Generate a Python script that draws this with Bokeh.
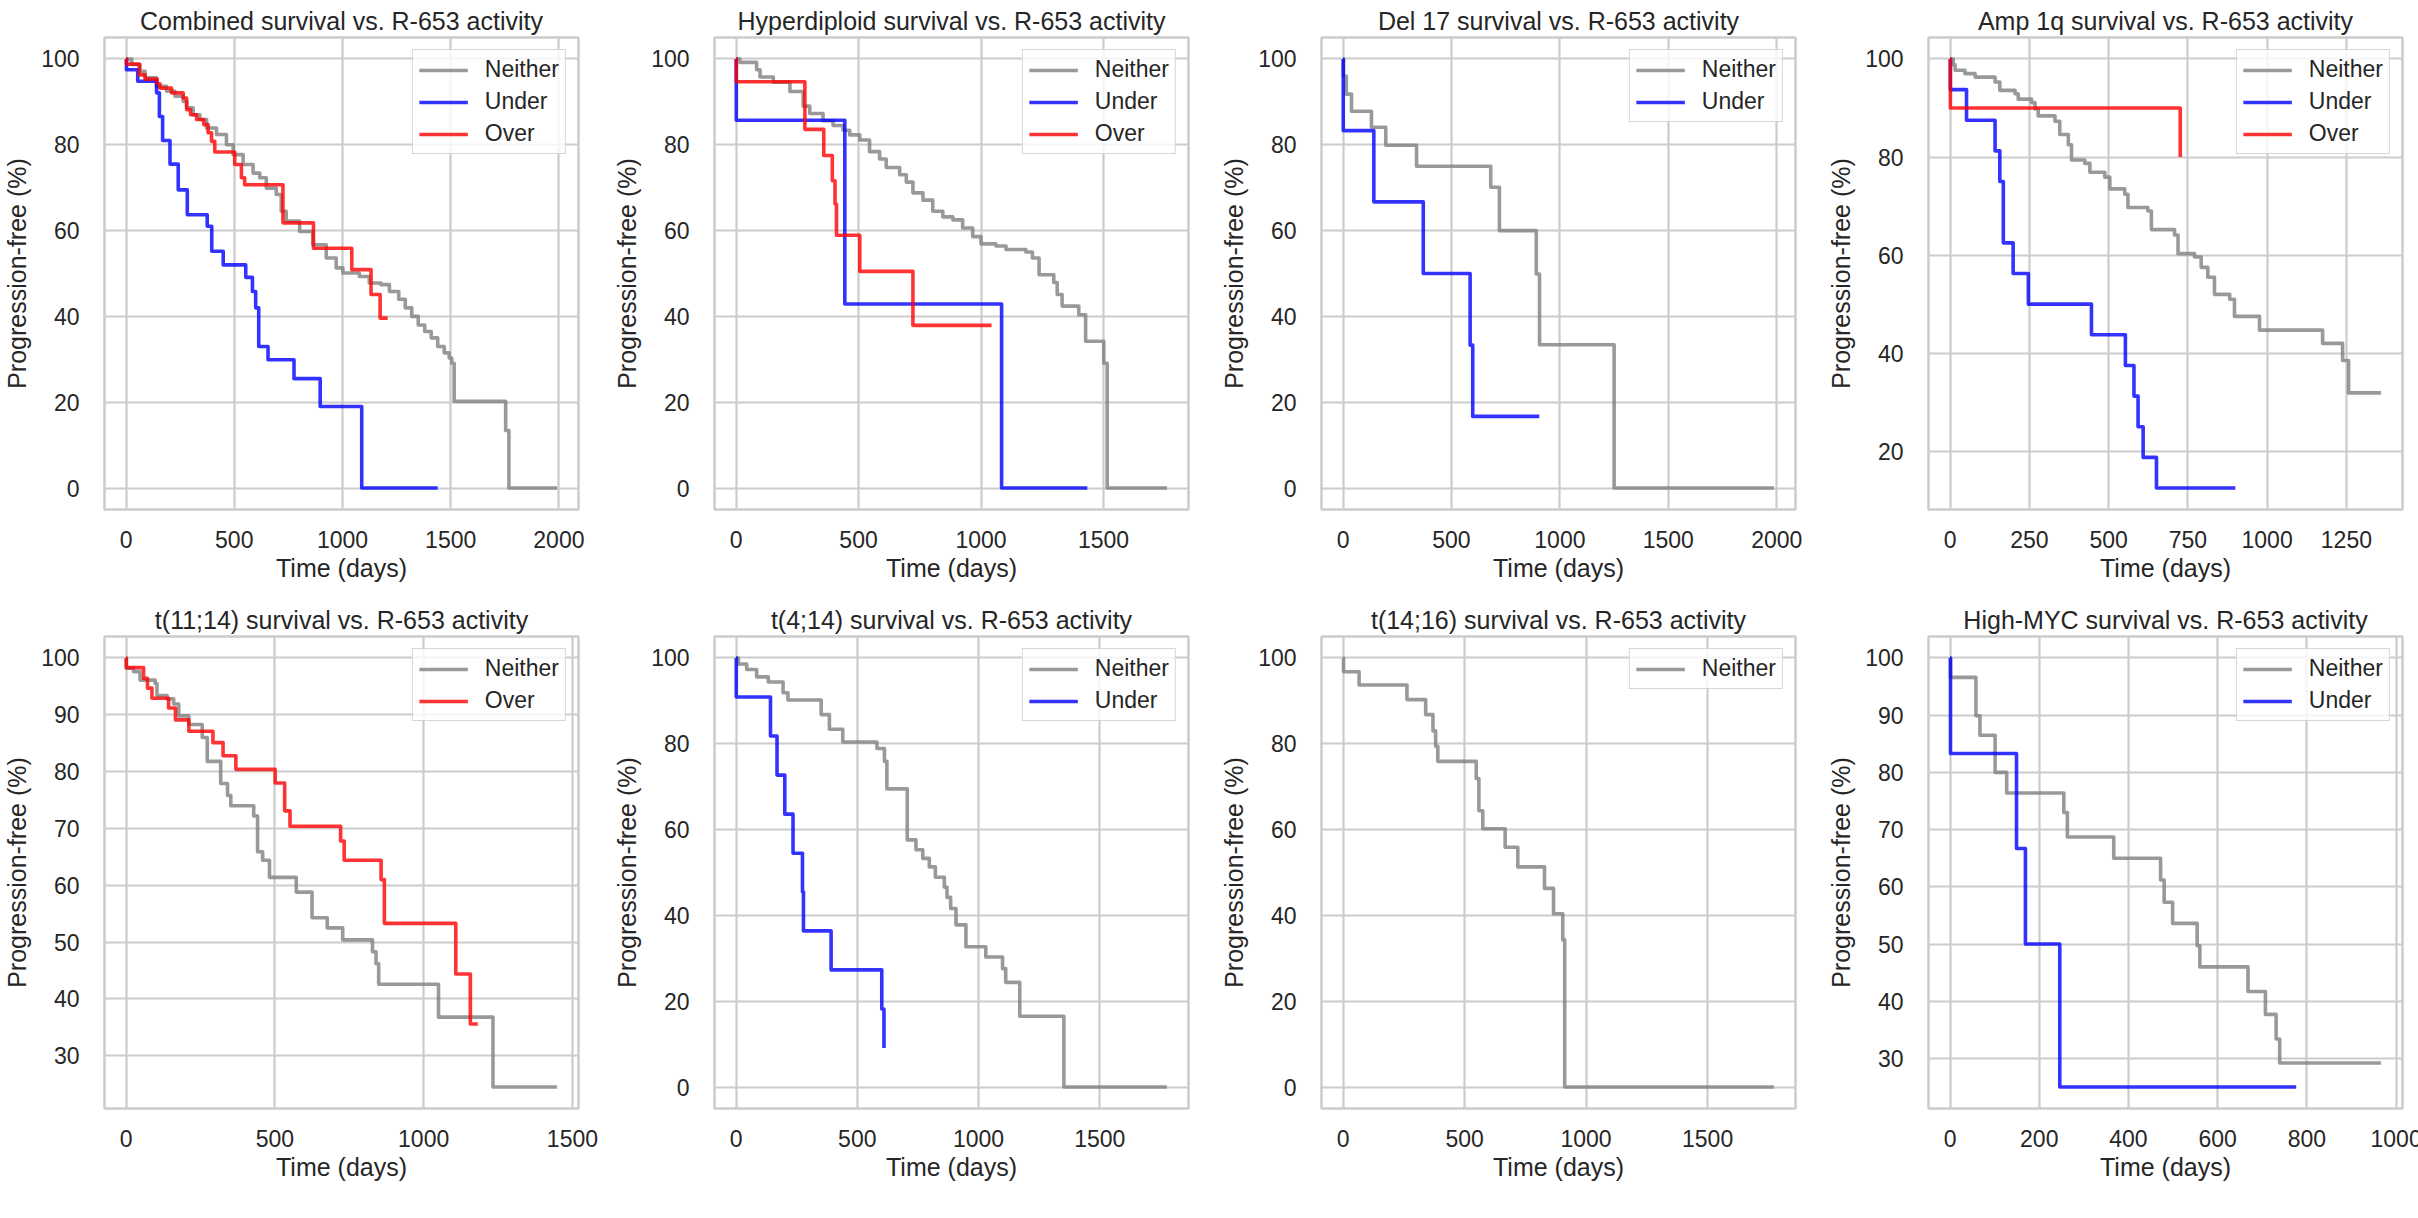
from bokeh.plotting import figure
from bokeh.layouts import column, row
from bokeh.models import Legend, LegendItem, FixedTicker, Range1d
from bokeh.embed import file_html
from bokeh.resources import INLINE

FONT = "Liberation Sans"
TXT = "#262626"
GRID = "#cccccc"

# ---------------- data ----------------
# Combined
comb_neither_t = [0, 26, 65, 88, 141, 187, 226, 264, 280, 310, 341, 372, 418, 464, 495, 541, 587, 618, 648, 694,
                  717, 740, 802, 863, 925, 971, 1002, 1078, 1124, 1178, 1217, 1260, 1290, 1320, 1350, 1380, 1410,
                  1440, 1470, 1493, 1505, 1516, 1754, 1769]
comb_neither_s = [100, 98.7, 97.1, 95.6, 93.6, 92.5, 91.3, 90.1, 88.6, 87.0, 85.9, 83.9, 82.4, 80.0, 77.7, 75.4,
                  73.4, 72.3, 69.9, 68.4, 64.5, 62.2, 59.8, 56.7, 53.6, 51.3, 50.1, 49.3, 47.8, 47.4, 45.8, 44.0,
                  42.0, 40.0, 38.0, 36.5, 35.0, 33.0, 31.5, 30.3, 29.1, 20.2, 13.4, 0]
comb_neither_end = 1991
comb_under_t = [0, 2, 54, 141, 154, 169, 203, 241, 283, 375, 396, 449, 553, 584, 599, 613, 656, 776, 897, 1089]
comb_under_s = [100, 97.5, 94.8, 92.1, 86.6, 81.0, 75.5, 69.5, 63.7, 61.0, 55.2, 52.0, 49.1, 45.8, 42.0, 33.0,
                29.9, 25.5, 19.0, 0]
comb_under_end = 1440
comb_over_t = [0, 2, 61, 88, 144, 157, 210, 264, 280, 298, 326, 359, 379, 395, 410, 502, 533, 548, 725, 866,
               1043, 1132, 1174]
comb_over_s = [100, 98.8, 96.3, 95.3, 94.2, 93.2, 92.1, 90.9, 88.2, 87.0, 85.9, 84.7, 82.8, 80.8, 78.3, 75.4,
               72.3, 70.7, 61.8, 55.9, 50.9, 45.1, 39.6]
comb_over_end = 1209

# Hyperdiploid
hyper_neither_t = [0, 16, 84, 98, 152, 220, 274, 301, 355, 396, 437, 464, 505, 545, 586, 613, 668, 695, 722, 763,
                   803, 844, 885, 925, 966, 1000, 1061, 1102, 1183, 1210, 1237, 1297, 1311, 1331, 1399, 1427,
                   1501, 1515]
hyper_neither_s = [100, 99.2, 97.5, 95.8, 94.6, 92.4, 89.0, 87.3, 85.6, 84.5, 83.4, 82.3, 81.1, 78.4, 76.7, 74.7,
                   73.0, 71.3, 68.8, 67.1, 64.5, 63.2, 62.5, 60.6, 58.6, 56.9, 56.4, 55.6, 55.0, 53.6, 49.7, 47.9,
                   45.1, 42.4, 40.4, 34.2, 29.1, 0]
hyper_neither_end = 1759
hyper_under_t = [0, 1, 444, 1084]
hyper_under_s = [100, 85.7, 42.9, 0]
hyper_under_end = 1434
hyper_over_t = [0, 1, 281, 358, 393, 404, 410, 505, 722]
hyper_over_s = [100, 94.7, 83.6, 77.5, 71.6, 66.2, 58.9, 50.5, 37.9]
hyper_over_end = 1043

# Del 17
del17_neither_t = [0, 2, 15, 39, 131, 197, 339, 681, 721, 891, 906, 1250]
del17_neither_s = [100, 96.0, 91.8, 87.8, 84.1, 79.9, 75.0, 70.1, 60.0, 49.9, 33.4, 0]
del17_neither_end = 1987
del17_under_t = [0, 1, 142, 370, 586, 598]
del17_under_s = [100, 83.3, 66.7, 50.0, 33.3, 16.7]
del17_under_end = 905

# Amp 1q
amp_neither_t = [0, 10, 16, 47, 79, 142, 157, 205, 215, 257, 268, 278, 331, 346, 373, 383, 425, 441, 488, 504,
                 551, 561, 624, 635, 708, 719, 771, 792, 813, 834, 882, 897, 976, 1175, 1238, 1257]
amp_neither_s = [100, 98.8, 97.7, 97.0, 96.3, 95.3, 93.6, 92.9, 91.8, 91.1, 89.8, 88.4, 87.3, 84.6, 82.5, 79.4,
                 78.7, 76.9, 75.9, 73.5, 72.4, 69.7, 69.0, 65.2, 64.1, 60.3, 59.6, 57.5, 55.5, 52.0, 51.0, 47.5,
                 44.7, 42.0, 38.5, 31.9]
amp_neither_end = 1359
amp_under_t = [0, 1, 52, 142, 157, 168, 199, 247, 446, 553, 580, 593, 609, 651]
amp_under_s = [100, 93.75, 87.5, 81.25, 75.0, 62.5, 56.25, 50.0, 43.75, 37.5, 31.25, 25.0, 18.75, 12.5]
amp_under_end = 900
amp_over_t = [0, 1, 726]
amp_over_s = [100, 90.0, 80.0]
amp_over_end = 726

# t(11;14)
t1114_neither_t = [0, 1, 25, 47, 98, 104, 138, 160, 177, 211, 256, 273, 318, 341, 352, 429, 442, 459, 482, 572,
                   625, 676, 728, 828, 840, 849, 1050, 1233]
t1114_neither_s = [100, 98.2, 97.6, 96.1, 95.5, 93.4, 92.8, 91.9, 89.8, 88.3, 86.0, 81.8, 77.9, 75.8, 74.0, 72.2,
                   65.9, 64.4, 61.4, 58.8, 54.3, 52.5, 50.4, 48.3, 46.2, 42.6, 36.8, 24.5]
t1114_neither_end = 1448
t1114_over_t = [0, 1, 59, 72, 87, 143, 166, 211, 292, 326, 369, 501, 533, 551, 721, 733, 857, 868, 1108, 1157]
t1114_over_s = [100, 98.3, 96.4, 94.7, 92.9, 91.2, 89.1, 87.1, 85.1, 82.8, 80.4, 78.0, 73.1, 70.4, 67.8, 64.4,
                61.0, 53.3, 44.4, 35.6]
t1114_over_end = 1182

# t(4;14)
t414_neither_t = [0, 10, 44, 85, 133, 194, 214, 351, 385, 440, 581, 612, 622, 706, 742, 770, 797, 822, 859, 870,
                  885, 907, 948, 1030, 1099, 1112, 1170, 1352]
t414_neither_s = [100, 98.6, 97.3, 95.6, 94.4, 91.9, 90.2, 86.8, 83.4, 80.4, 78.9, 75.9, 69.5, 57.6, 55.3, 53.3,
                  51.3, 48.9, 46.6, 44.2, 41.6, 37.8, 32.7, 30.3, 27.6, 24.4, 16.5, 0]
t414_neither_end = 1777
t414_under_t = [0, 1, 142, 169, 201, 235, 274, 278, 392, 601, 610]
t414_under_s = [100, 90.9, 81.8, 72.7, 63.6, 54.5, 45.5, 36.4, 27.3, 18.2, 9.1]
t414_under_end = 610

# t(14;16)
t1416_neither_t = [0, 2, 66, 263, 340, 370, 381, 390, 548, 559, 575, 667, 719, 829, 866, 904, 912]
t1416_neither_s = [100, 96.8, 93.7, 90.3, 86.8, 83.0, 79.4, 75.9, 71.9, 64.4, 60.2, 55.9, 51.3, 46.3, 40.4, 34.3, 0]
t1416_neither_end = 1773

# High-MYC
myc_neither_t = [0, 1, 58, 67, 101, 127, 255, 263, 367, 472, 480, 499, 554, 560, 668, 707, 731, 739]
myc_neither_s = [100, 96.6, 89.9, 86.5, 80.0, 76.4, 73.0, 68.7, 65.0, 61.2, 57.3, 53.6, 49.7, 46.0, 41.7, 37.7,
                 33.4, 29.2]
myc_neither_end = 966
myc_under_t = [0, 1, 149, 169, 246]
myc_under_s = [100, 83.3, 66.7, 50.0, 25.0]
myc_under_end = 776

titles = ["Combined survival vs. R-653 activity", "Hyperdiploid survival vs. R-653 activity",
          "Del 17 survival vs. R-653 activity", "Amp 1q survival vs. R-653 activity",
          "t(11;14) survival vs. R-653 activity", "t(4;14) survival vs. R-653 activity",
          "t(14;16) survival vs. R-653 activity", "High-MYC survival vs. R-653 activity"]

x_ticks = [[0, 500, 1000, 1500, 2000], [0, 500, 1000, 1500], [0, 500, 1000, 1500, 2000],
           [0, 250, 500, 750, 1000, 1250], [0, 500, 1000, 1500], [0, 500, 1000, 1500],
           [0, 500, 1000, 1500], [0, 200, 400, 600, 800, 1000]]
y_ticks = [[0, 20, 40, 60, 80, 100], [0, 20, 40, 60, 80, 100], [0, 20, 40, 60, 80, 100],
           [20, 40, 60, 80, 100], [30, 40, 50, 60, 70, 80, 90, 100], [0, 20, 40, 60, 80, 100],
           [0, 20, 40, 60, 80, 100], [30, 40, 50, 60, 70, 80, 90, 100]]

curves = [
    [("Neither", comb_neither_t, comb_neither_s, comb_neither_end),
     ("Under", comb_under_t, comb_under_s, comb_under_end),
     ("Over", comb_over_t, comb_over_s, comb_over_end)],
    [("Neither", hyper_neither_t, hyper_neither_s, hyper_neither_end),
     ("Under", hyper_under_t, hyper_under_s, hyper_under_end),
     ("Over", hyper_over_t, hyper_over_s, hyper_over_end)],
    [("Neither", del17_neither_t, del17_neither_s, del17_neither_end),
     ("Under", del17_under_t, del17_under_s, del17_under_end)],
    [("Neither", amp_neither_t, amp_neither_s, amp_neither_end),
     ("Under", amp_under_t, amp_under_s, amp_under_end),
     ("Over", amp_over_t, amp_over_s, amp_over_end)],
    [("Neither", t1114_neither_t, t1114_neither_s, t1114_neither_end),
     ("Over", t1114_over_t, t1114_over_s, t1114_over_end)],
    [("Neither", t414_neither_t, t414_neither_s, t414_neither_end),
     ("Under", t414_under_t, t414_under_s, t414_under_end)],
    [("Neither", t1416_neither_t, t1416_neither_s, t1416_neither_end)],
    [("Neither", myc_neither_t, myc_neither_s, myc_neither_end),
     ("Under", myc_under_t, myc_under_s, myc_under_end)],
]

COLORS = {"Neither": "gray", "Under": "blue", "Over": "red"}

# ---------------- layout ----------------
FRAME_W, FRAME_H = 474, 472
BORDER_L = 97
BORDER_R = [32, 29, 29, 28]
BORDER_T = [37, 41]
BORDER_B = 86


def make_panel(i):
    col, rw = i % 4, i // 4
    cs = curves[i]
    xmax = max(c[3] for c in cs)
    ymin = min(min(c[2]) for c in cs)
    ymax = max(max(c[2]) for c in cs)
    xpad = 0.05 * xmax
    ypad = 0.05 * (ymax - ymin)
    p = figure(frame_width=FRAME_W, frame_height=FRAME_H,
               x_range=Range1d(-xpad, xmax + xpad), y_range=Range1d(ymin - ypad, ymax + ypad),
               min_border_left=BORDER_L, min_border_right=BORDER_R[col],
               min_border_top=BORDER_T[rw], min_border_bottom=BORDER_B,
               output_backend="svg", toolbar_location=None,
               background_fill_color="white", border_fill_color="white",
               outline_line_color=GRID, outline_line_width=2.5, title=titles[i])
    p.title.align = "center"
    p.title.text_font = FONT
    p.title.text_font_size = "25px"
    p.title.text_font_style = "normal"
    p.title.text_color = TXT
    p.title.standoff = 6

    for ax, ticks in ((p.xaxis, x_ticks[i]), (p.yaxis, y_ticks[i])):
        ax.ticker = FixedTicker(ticks=ticks)
        ax.major_tick_line_color = None
        ax.minor_tick_line_color = None
        ax.axis_line_color = None
        ax.major_label_text_font = FONT
        ax.major_label_text_font_size = "23px"
        ax.major_label_text_color = TXT
        ax.axis_label_text_font = FONT
        ax.axis_label_text_font_size = "25px"
        ax.axis_label_text_font_style = "normal"
        ax.axis_label_text_color = TXT
    p.xaxis.axis_label = "Time (days)"
    p.yaxis.axis_label = "Progression-free (%)"
    p.xaxis.major_label_standoff = 15
    p.xaxis.axis_label_standoff = 3
    p.yaxis.major_label_standoff = 19
    p.yaxis.axis_label_standoff = 7

    for g in (p.xgrid, p.ygrid):
        g.grid_line_color = GRID
        g.grid_line_width = 2.2

    items = []
    for name, t, s, end in cs:
        xs = list(t) + [end]
        ys = list(s) + [s[-1]]
        r = p.step(x=xs, y=ys, mode="after", line_color=COLORS[name], line_alpha=0.8,
                   line_width=3.6, line_join="round")
        items.append(LegendItem(label=name, renderers=[r]))
    leg = Legend(items=items, location="top_right",
                 label_text_font=FONT, label_text_font_size="23px", label_text_color=TXT,
                 glyph_width=49, glyph_height=26, label_height=26, label_standoff=17,
                 spacing=5, padding=6, margin=12,
                 border_line_color=GRID, border_line_alpha=0.8, border_line_width=1.5,
                 background_fill_color="white", background_fill_alpha=0.8)
    p.add_layout(leg)
    return p


figs = [make_panel(i) for i in range(8)]
layout = column(row(*figs[:4]), row(*figs[4:]))

open("out.html", "w").write(file_html(layout, INLINE))
